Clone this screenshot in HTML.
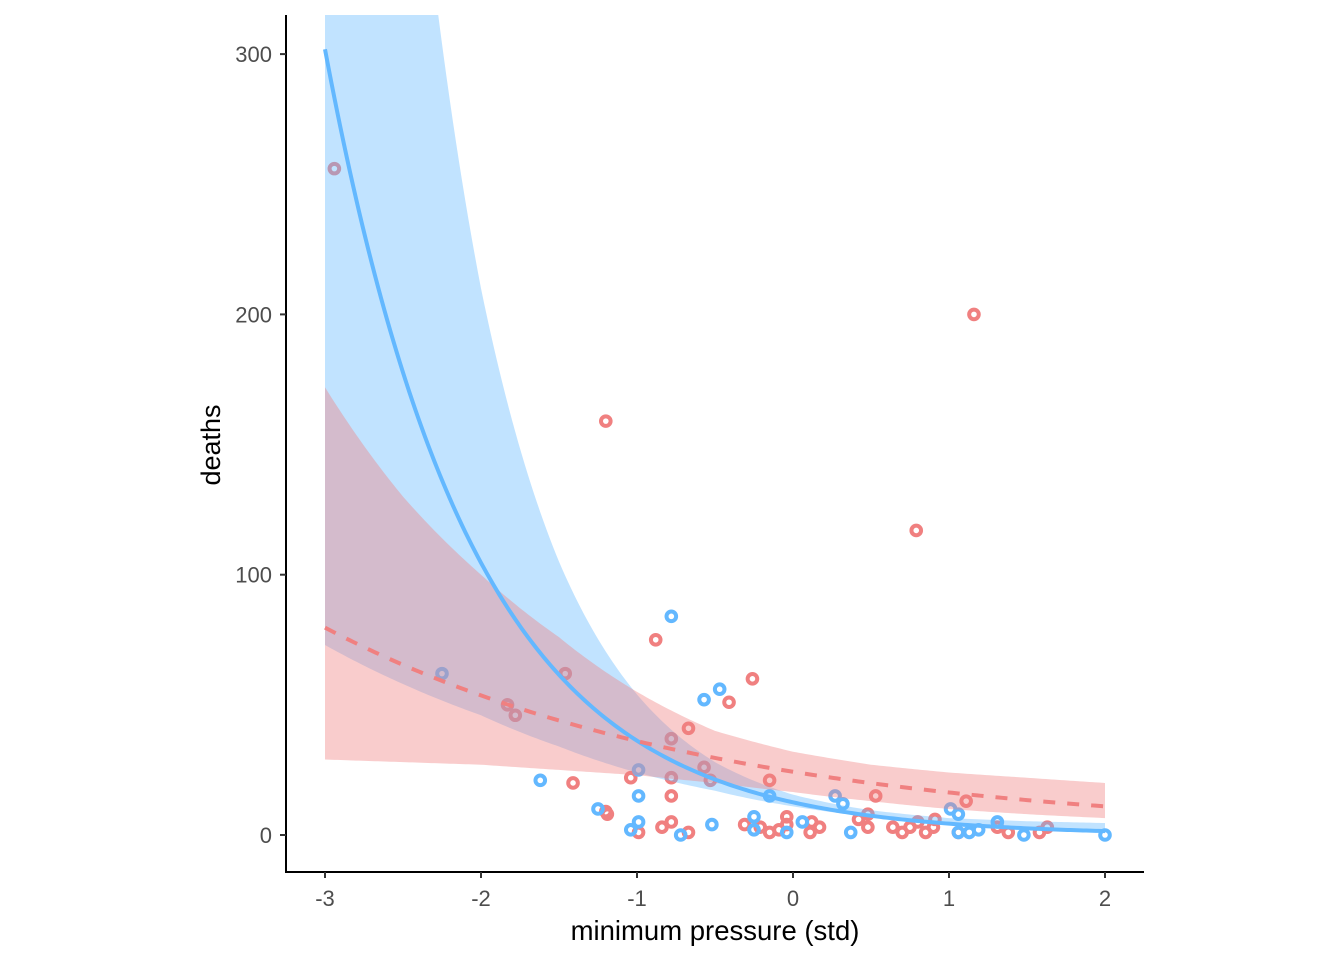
<!DOCTYPE html>
<html><head><meta charset="utf-8"><style>
html,body{margin:0;padding:0;background:#fff;}
svg text{font-family:"Liberation Sans",Arial,sans-serif;}
</style></head><body>
<svg id="chart" width="1344" height="960" viewBox="0 0 1344 960" xmlns="http://www.w3.org/2000/svg">
<defs><clipPath id="clip"><rect x="287" y="15" width="857" height="857"/></clipPath></defs>
<g id="pts" clip-path="url(#clip)"></g>
<g id="bands" clip-path="url(#clip)"></g>
<g id="lines" clip-path="url(#clip)"></g>
<g id="axes"></g>
<text x="220" y="445" font-size="27" fill="#000" text-anchor="middle" transform="rotate(-90 220 445)">deaths</text>
<text x="715" y="940" font-size="27.5" fill="#000" text-anchor="middle">minimum pressure (std)</text>
</svg>
<script>
const xTicks = [-3,-2,-1,0,1,2];
const yTicks = [0,100,200,300];
const redX = [-2.94,1.16,-1.20,0.79,-0.88,-0.26,-1.46,-1.83,-1.78,-0.41,-0.67,-0.78,-1.04,-0.78,-0.57,-0.53,-0.15,-1.41,-1.20,-1.19,-0.78,-0.99,-0.84,-0.78,-0.67,-0.31,-0.21,-0.15,-0.09,-0.04,-0.04,0.11,0.12,0.17,0.42,0.48,0.48,0.53,0.64,0.70,0.75,0.80,0.85,0.90,0.91,1.11,1.31,1.38,1.58,1.63,1.06];
const redY = [256,200,159,117,75,60,62,50,46,51,41,37,22,22,26,21,21,20,9,8,15,1,3,5,1,4,3,1,2,7,4,1,5,3,6,8,3,15,3,1,3,5,1,3,6,13,3,1,1,3,1];
const blueX = [-2.25,-0.78,-0.47,-0.57,-0.99,-1.62,-1.25,-0.99,-0.99,-1.04,-0.72,-0.52,-0.25,-0.25,-0.15,-0.04,0.06,0.27,0.32,0.37,1.01,1.06,1.06,1.13,1.19,1.31,1.48,2.0];
const blueY = [62,84,56,52,25,21,10,15,5,2,0,4,7,2,15,1,5,15,12,1,10,8,1,1,2,5,0,0];
const bandX = [-3,-2.5,-2,-1.5,-1,-0.5,0,0.5,1,1.5,2];
const blueLo = [73,58,46,34,24,17,11,7,4,2.4,1.5];
const blueHi = [720,440,210,105,54,28,15.5,9.5,6.5,5.3,4.6];
const redLo = [29,28,27,25,23,20,16.5,13,10,8,6.5];
const redHi = [172,130,100,76,55,40,32,27,24,22,20];
const blueCoef = [2.53,-1.06];
const redCoef = [3.19,-0.396];

const NS="http://www.w3.org/2000/svg";
const X = v => 793 + v*156;
const Y = v => 835 - v*2.603;
function mk(tag, attrs, parent){const e=document.createElementNS(NS,tag);for(const k in attrs)e.setAttribute(k,attrs[k]);parent.appendChild(e);return e;}
function interp(arr, x){
  for(let i=0;i<bandX.length-1;i++){
    if(x>=bandX[i]&&x<=bandX[i+1]){const t=(x-bandX[i])/(bandX[i+1]-bandX[i]);return Math.exp(Math.log(arr[i])*(1-t)+Math.log(arr[i+1])*t);}
  }
  return arr[arr.length-1];
}
const pts=document.getElementById('pts');
redX.forEach((x,i)=>{
  const c=mk('circle',{cx:X(x),cy:Y(redY[i]),r:4.8,fill:'none',stroke:'#F08080','stroke-width':4},pts);
  
  
});
blueX.forEach((x,i)=>{
  const c=mk('circle',{cx:X(x),cy:Y(blueY[i]),r:4.8,fill:'none',stroke:'#63B8FF','stroke-width':4},pts);
  
  
});
function band(lo,hi,color,name){
  const xs=[];for(let x=-3;x<=2.0001;x+=0.02)xs.push(x);
  let d='M'+xs.map(x=>X(x)+','+Y(interp(hi,x))).join('L');
  d+='L'+xs.slice().reverse().map(x=>X(x)+','+Y(interp(lo,x))).join('L')+'Z';
  const p=mk('path',{d:d,fill:color,'fill-opacity':0.4},document.getElementById('bands'));
  
  
}
band(blueLo,blueHi,'#63B8FF','blue-band');
band(redLo,redHi,'#F08080','red-band');
function line(coef,color,dash,name){
  const xs=[];for(let x=-3;x<=2.0001;x+=0.02)xs.push(x);
  const d='M'+xs.map(x=>X(x)+','+Y(Math.exp(coef[0]+coef[1]*x))).join('L');
  const p=mk('path',{d:d,fill:'none',stroke:color,'stroke-width':4,'stroke-dasharray':dash},document.getElementById('lines'));
  
  
}
line(blueCoef,'#63B8FF','none','blue-fit-line');
line(redCoef,'#F08080','12,12','red-fit-line');
const ax=document.getElementById('axes');
const yl=mk('line',{x1:286,y1:15,x2:286,y2:873,stroke:'#000','stroke-width':2},ax);


const xl=mk('line',{x1:285,y1:872,x2:1144,y2:872,stroke:'#000','stroke-width':2},ax);


xTicks.forEach(t=>{
  mk('line',{x1:X(t),y1:872,x2:X(t),y2:878,stroke:'#333','stroke-width':2},ax);
  const tx=mk('text',{x:X(t),y:906,'font-size':22,fill:'#4D4D4D','text-anchor':'middle'},ax);
  tx.textContent=t;
  
  
});
yTicks.forEach(t=>{
  mk('line',{x1:280,y1:Y(t),x2:286,y2:Y(t),stroke:'#333','stroke-width':2},ax);
  const tx=mk('text',{x:272,y:Y(t)+8,'font-size':22,fill:'#4D4D4D','text-anchor':'end'},ax);
  tx.textContent=t;
  
  
});
</script>
</body></html>
